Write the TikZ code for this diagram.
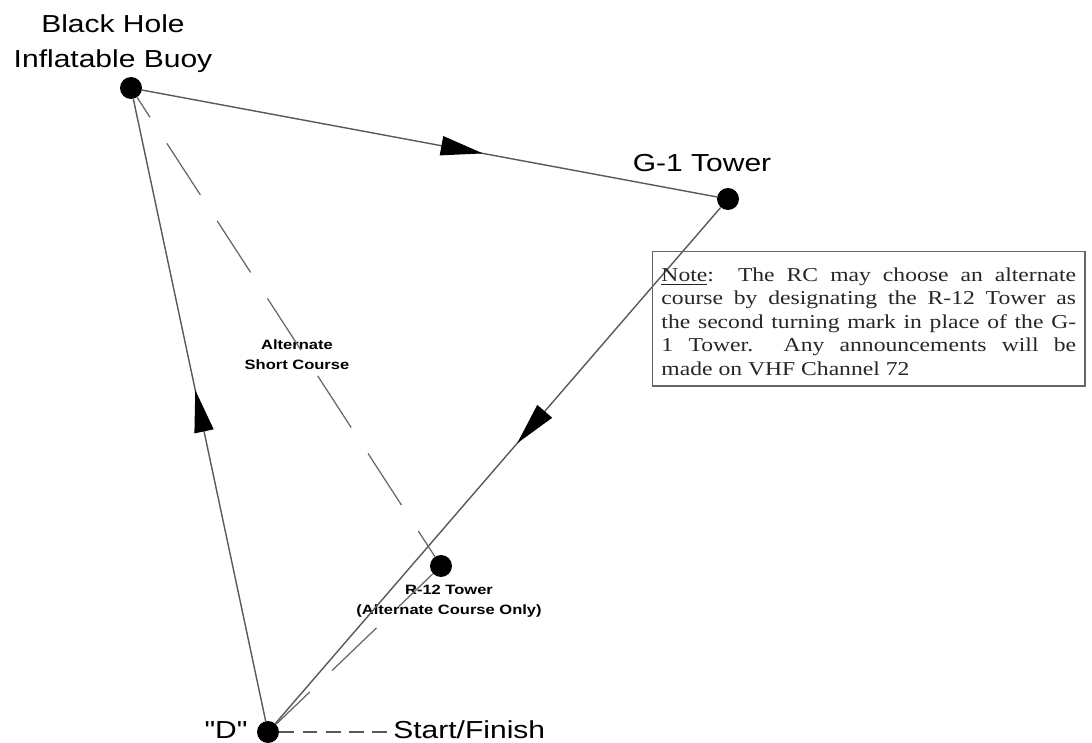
\documentclass[tikz,border=0pt]{standalone}
\usepackage{fontspec}
\setmainfont{Liberation Serif}
\newfontfamily\labelfont{Liberation Sans}[FakeStretch=1.22]
\newfontfamily\notefont{Liberation Serif}[FakeStretch=1.2]
\usetikzlibrary{arrows.meta,decorations.markings}

\begin{document}
\begin{tikzpicture}[x=0.02cm, y=-0.02cm,
		buoy/.style={circle, fill=black, inner sep=0pt, minimum size=12.5pt},
		bigtag/.style={font=\labelfont\fontsize{14}{20}\selectfont, text=black, align=center, inner sep=0pt},
		smalltag/.style={font=\labelfont\bfseries\fontsize{7.7}{11.2}\selectfont, text=black, align=center, inner sep=0pt},
		legline/.style={draw=black!65, line width=0.8pt},
		altline/.style={draw=black!60, line width=0.7pt, dash pattern=on 35pt off 17.6pt},
		turnarrow/.style={postaction={decorate}, decoration={markings, mark=at position #1 with {\arrow[black]{Triangle[length=24pt,width=11pt]}}}},
		notebox/.style={draw=black!60, line width=0.8pt, text=black!85, font=\notefont\fontsize{11.2}{13.3}\selectfont, text width=236pt, align=justify, inner xsep=5pt, inner ysep=6pt}]
			%%%%% START %%%%%
			
			\useasboundingbox (0, 0) rectangle (1092, 743);
			
			% marks of the course
			\node[buoy] (bh) at (131, 88) {};
			\node[buoy] (g1) at (728, 199) {};
			\node[buoy] (r12) at (441, 566) {};
			\node[buoy] (d) at (268, 732) {};
			
			\node[bigtag] (bhtag) at (113, 44) {Black Hole\\Inflatable Buoy};
			\node[bigtag, anchor=base] (g1tag) at (702, 172) {G-1 Tower};
			\node[bigtag, anchor=base] (dtag) at (226, 738) {"D"};
			\node[bigtag, anchor=base west] (sftag) at (393, 738) {Start/Finish};
			
			\node[smalltag] (alttag) at (297, 355) {Alternate\\Short Course};
			\node[smalltag] (r12tag) at (449, 601) {R-12 Tower\\(Alternate Course Only)};
			
			% legs
			\draw[legline, turnarrow=0.593] (bh) -- (g1);
			\draw[legline, turnarrow=0.457] (g1) -- (d);
			\draw[legline, turnarrow=0.532] (d) -- (bh);
			
			\draw[altline, dash phase=21.5pt] (bh) -- (r12);
			\draw[altline, dash phase=8.5pt] (d) -- (r12);
			
			\draw[draw=black!65, line width=0.8pt, dash pattern=on 8.5pt off 4.7pt] (d) -- (d -| sftag.west);
			
			\node[notebox, anchor=north west] (note) at (652, 251) {\rule{0pt}{11pt}\underline{Note}:\ \ The RC may choose an alternate\linebreak course by designating the R-12 Tower as\linebreak the second turning mark in place of the G-\linebreak 1 Tower.\ \ Any announcements will be\linebreak made on VHF Channel 72};
			
			%%%%% END %%%%%
\end{tikzpicture}
\end{document}
